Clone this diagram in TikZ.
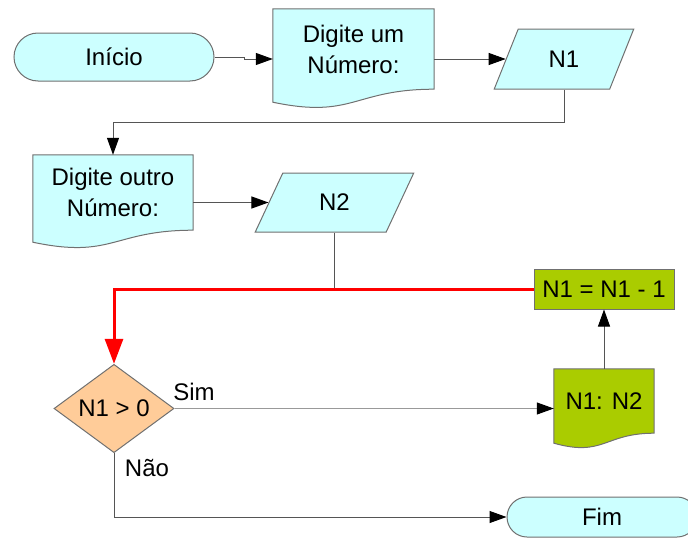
\documentclass[tikz,border=0pt]{standalone}
\usepackage{fontspec}
\setmainfont{Liberation Sans}
\usetikzlibrary{shapes.geometric,shapes.misc,arrows.meta,calc,backgrounds}

\definecolor{caixa}{HTML}{CCFFFF}
\definecolor{verde}{HTML}{AACC00}
\definecolor{salmao}{HTML}{FFCC99}
\definecolor{borda}{HTML}{707070}
\definecolor{linha}{HTML}{555555}
\definecolor{cinza}{HTML}{999999}

\newcommand{\documento}[4]{%
  \filldraw[fill=#2, draw=borda, line width=1pt] (#1.north west) -- (#1.north east) -- (#1.south east)
    .. controls (#1.south) and ($(#1.south)+(0,#4)$) .. ($(#1.south west)+(0,#3)$) -- cycle;}

\begin{document}
\begin{tikzpicture}[x=1pt, y=-1pt, font=\fontsize{24}{28}\selectfont,
    terminal/.style={rounded rectangle, draw=borda, fill=caixa, line width=1pt, inner sep=0pt},
    entrada/.style={trapezium, trapezium left angle=64, trapezium right angle=116, trapezium stretches,
                    draw=borda, fill=caixa, line width=1pt, inner sep=0pt},
    doc/.style={rectangle, inner sep=0pt, align=center, font=\fontsize{24}{31}\selectfont},
    seta/.style={draw=linha, line width=1pt, -{Triangle[length=17pt,width=12pt,color=black]}}]
  \useasboundingbox (0,0) rectangle (688,538);

  \node[terminal, minimum width=200pt, minimum height=48pt] (inicio) at (114,57) {Início};
  \node[doc, minimum width=161pt, minimum height=80pt] (dig1) at (353.5,49) {Digite um\\Número:};
  \node[entrada, minimum width=140pt, minimum height=60pt] (n1) at (564,59) {N1};
  \node[doc, minimum width=160pt, minimum height=75pt] (dig2) at (113,192.5) {Digite outro\\Número:};
  \node[entrada, minimum width=159pt, minimum height=59pt] (n2) at (334.5,202.5) {N2};
  \node[rectangle, draw=borda, fill=verde, line width=1pt, minimum width=140pt, minimum height=40pt, inner sep=0pt] (conta) at (604,289) {N1 = N1 - 1};
  \node[doc, minimum width=100pt, minimum height=64pt] (saida) at (604,401) {N1: N2};
  \node[diamond, draw=borda, fill=salmao, line width=1pt, minimum width=120pt, minimum height=79pt, inner sep=0pt] (teste) at (114,408.5) {N1 > 0};
  \node[terminal, minimum width=190pt, minimum height=40pt] (fim) at (602,517) {Fim};

  \begin{scope}[on background layer]
    \documento{dig1}{caixa}{13}{30}
    \documento{dig2}{caixa}{12}{29}
    \documento{saida}{verde}{10}{24}
  \end{scope}

  \draw[seta] (inicio.east) -- ++(30,0) |- (dig1.west |- n1.west);
  \draw[seta] (dig1.east |- n1.west) -- (n1.west);
  \draw[seta] (n1.south) -- ++(0,33) -| (dig2.north);
  \draw[seta] (dig2.east |- n2.west) -- (n2.west);
  \coordinate (junta) at (n2.south |- conta.west);
  \draw[draw=linha, line width=1pt] (n2.south) -- (junta);
  \draw[red, line width=3pt, -{Triangle[length=25pt,width=18pt]}] (conta.west) -| (teste.north);
  \draw[seta, draw=cinza] (teste.east) -- (saida.west |- teste.east);
  \draw[seta] (saida.north) -- (conta.south);
  \draw[seta] (teste.south) |- (fim.west);

  \node (sim) at (194,392) {Sim};
  \node (nao) at (147,468) {Não};
\end{tikzpicture}
\end{document}
